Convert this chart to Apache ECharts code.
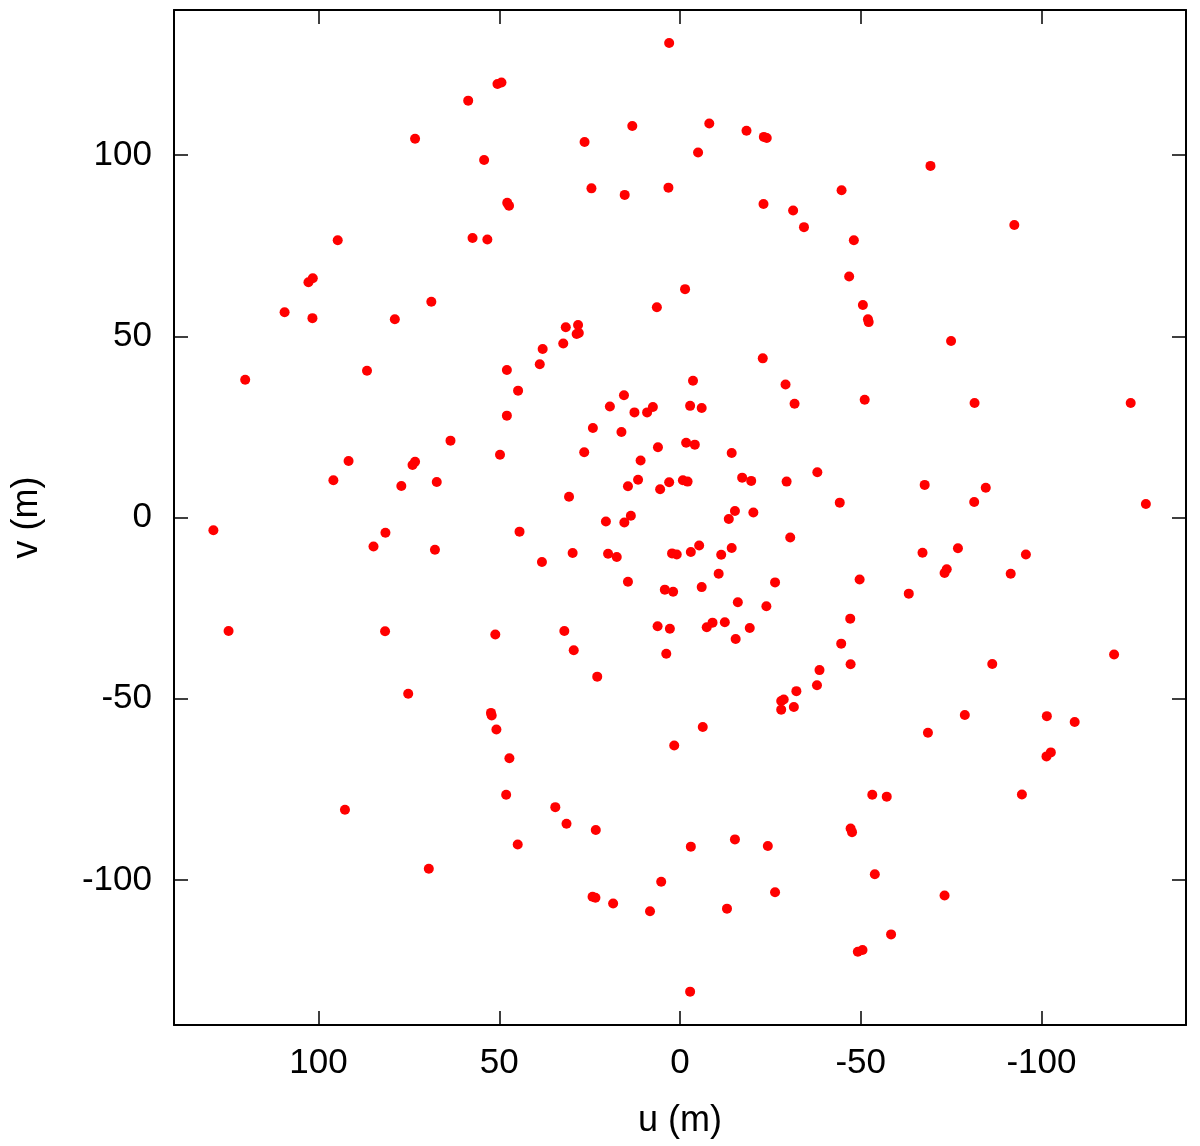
<!DOCTYPE html>
<html>
<head>
<meta charset="utf-8">
<script src="https://cdn.jsdelivr.net/npm/echarts@6/dist/echarts.min.js"></script>
<style>
html,body{margin:0;padding:0;background:#fff;}
#chart{width:1200px;height:1146px;}
</style>
</head>
<body>
<div id="chart"></div>
<script>
// u (m) coordinates of the uv samples
var uValues = [
  50.5, 49.4, 58.6, 73.3, 54.2, 47.8, 47.3, 94.7, 57.4, 53.3,
  3.0, 13.2, 26.4, -8.1, -18.4, -23.2, -24.0, -5.0, 24.5, 15.3, 3.2, -44.7, -23.1, -31.3, -34.3,
  -69.3, -92.5, -48.1,
  102.8, 101.6, 109.4, 101.7, 78.9, 68.8, 120.3, 86.6, 47.9, 47.9, 63.5, 91.7, 95.9, 74.0, 73.3, 77.1, 67.3, 49.8,
  -1.4, 6.4, -46.8, 31.6, 28.2, 28.6, 28.0, 32.3, 38.0, 38.8, 44.8, -22.9, -3.6, -29.2, -31.7, 15.5, 19.4, 12.6, 9.1, 7.5,
  -2.8, -6.0, 24.1, 16.2, 26.5, 6.1, -1.7, -4.1, 10.9, -14.3, -17.2, -19.7, -29.5, -38.0, 11.6, 14.4, 3.0, 5.5, -0.8, -2.1,
  30.7, -44.2, -15.2, -20.3, -13.5, 13.6, 20.5, 15.4,
  -50.6, -52.0, -52.2, -75.0, -51.1, -81.5, -124.7, -67.7, -84.6, -81.4, -128.9,
  129.1, 81.5, 84.8, 67.8, 124.9, 81.6, 51.1, 75.2, 52.3, 52.1, 50.8, 47.2,
  44.4, 38.2, 29.7, 19.9, 17.5, 14.4, 2.2, 0.9, -3.0, -5.3, -11.4, -14.3, -30.5, -10.7, -6.0, -26.3, 4.2, 1.9, -16.0, -23.9,
  -47.1, 32.0, 6.2, 2.8, -7.4, -9.0, -12.4, -19.3, -15.4, 29.4, 3.8, -44.6, -47.2, 22.9, -38.6, -37.9, -32.2, -28.0, -28.7,
  -28.0, -31.5, -6.3, 1.6,
  -49.7, -67.1, -76.9, -73.2, -73.8, -63.3, -91.5, -95.7, -86.4, -120.1, -78.8, -68.6, -101.5, -109.2, -101.4, -102.6,
  92.7, 69.5, 48.1,
  34.5, 31.4, 23.3, 44.9, -3.0, -15.2, -24.3, -47.2, -47.6, 5.2, 24.2, 23.4, 18.5, 8.3, -13.0, -26.3, -2.8,
  -53.2, -57.2, -94.6, -53.9, -73.2, -58.4, -49.2, -50.5
];
// v (m) coordinates of the uv samples
var vValues = [
  119.6, 120.0, 115.0, 104.5, 98.6, 86.8, 86.0, 76.5, 77.1, 76.7,
  130.9, 108.0, 103.6, 108.7, 106.7, 105.0, 104.7, 100.7, 90.8, 89.0, 91.0, 90.3, 86.5, 84.7, 80.1,
  97.0, 80.7, 76.5,
  64.9, 66.0, 56.6, 55.0, 54.7, 59.5, 38.0, 40.5, 40.7, 28.1, 21.2, 15.6, 10.3, 14.5, 15.4, 8.7, 9.8, 17.3,
  63.0, 58.0, 66.5, 52.5, 53.1, 50.6, 50.9, 48.0, 46.5, 42.3, 35.0, 43.9, 37.7, 36.7, 31.4, 33.7, 30.6, 29.0, 29.0, 30.5,
  30.8, 30.2, 24.7, 23.6, 18.0, 19.4, 20.6, 20.1, 15.7, 17.8, 11.0, 10.1, 9.9, 12.5, 10.4, 8.6, 9.7, 7.8, 10.3, 9.9,
  5.7, 4.1, 1.8, 1.4, -0.4, 0.5, -1.1, -1.4,
  58.6, 54.7, 53.9, 48.7, 32.5, 31.6, 31.6, 9.0, 8.2, 4.3, 3.7,
  -3.5, -4.2, -8.0, -8.9, -31.3, -31.4, -32.3, -48.6, -53.9, -54.6, -58.5, -66.4,
  -3.9, -12.3, -9.8, -10.0, -10.9, -17.7, -9.9, -10.2, -9.5, -7.7, -10.3, -8.4, -5.5, -15.5, -19.2, -17.9, -19.9, -20.5, -23.4, -24.5,
  -27.9, -31.3, -30.0, -30.7, -30.3, -29.0, -28.9, -30.5, -33.5, -36.6, -37.6, -34.8, -40.5, -43.9, -42.1, -46.3, -47.9, -50.6, -50.2,
  -53.0, -52.3, -57.8, -62.9,
  -17.1, -9.7, -8.5, -15.3, -14.3, -21.0, -15.5, -10.2, -40.4, -37.8, -54.5, -59.4, -54.8, -56.4, -65.9, -64.8,
  -80.6, -96.9, -76.5,
  -79.9, -84.5, -86.2, -90.2, -90.8, -88.8, -90.6, -85.8, -86.8, -100.5, -104.6, -104.9, -106.5, -108.6, -107.9, -103.4, -130.8,
  -76.5, -77.0, -76.4, -98.4, -104.3, -115.0, -119.8, -119.3
];
var tickValues = [-100, -50, 0, 50, 100];
var axisMin = -140, axisMax = 140;
var xName = 'u (m)', yName = 'v (m)';

var points = uValues.map(function (u, i) { return [u, vValues[i]]; });
var FONT = '"Liberation Sans", Arial, Helvetica, sans-serif';

function axis(pos, showLabel, name) {
  var a = {
    type: 'value',
    position: pos,
    min: axisMin,
    max: axisMax,
    splitLine: { show: false },
    axisLine: { show: true, onZero: false, lineStyle: { color: '#000', width: 2 } },
    axisTick: { show: true, inside: true, length: 14, customValues: tickValues,
                lineStyle: { color: '#000', width: 1.5 } },
    axisLabel: { show: showLabel, customValues: tickValues, fontSize: 35, color: '#000',
                 fontFamily: FONT, margin: pos === 'left' ? 22 : 21 }
  };
  if (name) {
    a.name = name;
    a.nameLocation = 'middle';
    a.nameGap = pos === 'bottom' ? 78 : 129;
    a.nameTextStyle = { fontSize: 36, color: '#000', fontFamily: FONT };
  }
  return a;
}

var xb = axis('bottom', true, xName); xb.inverse = true;
var xt = axis('top', false); xt.inverse = true;
var yl = axis('left', true, yName);
var yr = axis('right', false);

var chart = echarts.init(document.getElementById('chart'));
chart.setOption({
  animation: false,
  backgroundColor: '#fff',
  grid: { left: 174, right: 14, top: 10, bottom: 121, containLabel: false },
  xAxis: [xb, xt],
  yAxis: [yl, yr],
  series: [{
    type: 'scatter',
    xAxisIndex: 0,
    yAxisIndex: 0,
    data: points,
    symbol: 'circle',
    symbolSize: 10,
    itemStyle: { color: '#ff0000', opacity: 1 }
  }]
});
</script>
</body>
</html>
